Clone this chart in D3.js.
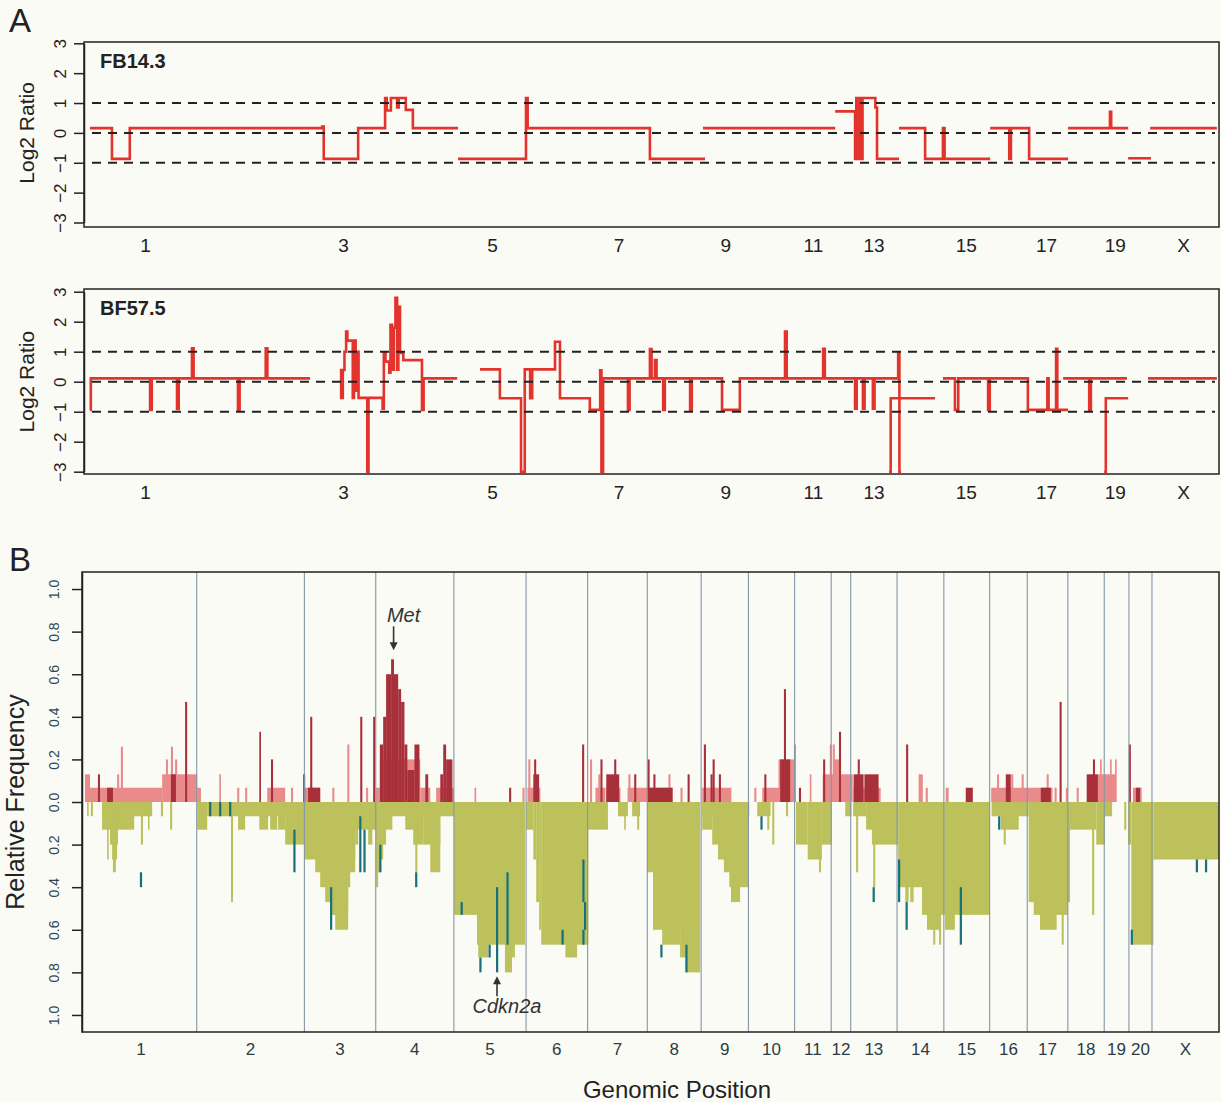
<!DOCTYPE html>
<html><head><meta charset="utf-8">
<script src="https://cdn.jsdelivr.net/npm/d3@7"></script>
<style>body{margin:0;background:#fbfbf6}svg{display:block}text{font-family:"Liberation Sans",Arial,sans-serif}</style>
</head><body><svg id="c" width="1221" height="1102"></svg>
<script>
// ---------- DATA ----------
const chromNames = ["1","2","3","4","5","6","7","8","9","10","11","12","13","14","15","16","17","18","19","20","X"];
const chromLengths = [267.9,258.2,171.1,187.4,173.1,147.6,143.0,129.2,113.4,110.7,87.8,46.7,111.2,112.2,109.8,90.2,97.3,87.3,59.2,55.3,160.7]; // Mb
const aTickLabels = ["1","3","5","7","9","11","13","15","17","19","X"];
const log2Ticks = [3,2,1,0,-1,-2,-3];
const log2RefLines = [1,0,-1];
const freqTicks = [1.0,0.8,0.6,0.4,0.2,0.0,-0.2,-0.4,-0.6,-0.8,-1.0];
const sampleNames = ["FB14.3","BF57.5"];

// segments: [start Mb, end Mb, log2 ratio]; each inner list is one connected run
const fb143Runs = [
 [[0,53,0.16],[53,96,-0.87],[96,560,0.16],[560,564,0.21],[564,647,-0.87],[647,712,0.16],[712,716,1.17],[716,726,0.75],[726,741,1.17],[741,745,0.85],[745,762,1.17],[762,779,0.77],[779,888,0.16]],
 [[888,1052,-0.87],[1052,1056,1.17],[1056,1351,0.16],[1351,1484,-0.87]],
 [[1479,1798,0.16]],
 [[1798,1846,0.72],[1846,1849,-0.87],[1849,1852,1.17],[1852,1856,-0.87],[1856,1860,1.17],[1860,1864,-0.87],[1864,1895,1.17],[1895,1899,0.85],[1899,1952,-0.87]],
 [[1952,2015,0.16],[2015,2058,-0.87],[2058,2062,0.16],[2062,2172,-0.87]],
 [[2172,2218,0.16],[2218,2222,-0.87],[2222,2266,0.16],[2266,2360,-0.87]],
 [[2360,2461,0.16],[2461,2464,0.71],[2464,2505,0.16]],
 [[2505,2560,-0.85]],
 [[2558,2719,0.16]]
];
const bf575Runs = [
 [[0,2,-0.94],[2,145,0.11],[145,149,-0.94],[149,210,0.11],[210,214,-0.91],[214,246,0.11],[246,250,1.11],[250,357,0.11],[357,361,-0.94],[361,424,0.11],[424,428,1.11],[428,531,0.11]],
 [[603,606,0.39],[606,610,-0.54],[610,614,0.39],[614,618,1.0],[618,621,1.67],[621,634,1.37],[634,637,-0.54],[637,641,1.37],[641,644,-0.3],[644,648,1.0],[648,669,-0.54],[669,672,-3.0],[672,706,-0.54],[706,709,-0.9],[709,713,0.96],[713,722,0.67],[722,725,0.3],[725,729,1.9],[729,733,0.4],[733,737,1.8],[737,741,2.8],[741,744,0.4],[744,748,2.5],[748,756,0.96],[756,801,0.72],[801,805,-0.94],[805,886,0.11]],
 [[941,989,0.41],[989,1040,-0.55],[1040,1049,-3.0],[1049,1062,0.41],[1062,1067,-0.55],[1067,1122,0.41],[1122,1134,1.33],[1134,1206,-0.55],[1206,1231,-0.94],[1231,1234,0.38],[1234,1238,-3.0],[1238,1298,0.11],[1298,1302,-0.94],[1302,1351,0.11],[1351,1355,1.09],[1355,1363,0.11],[1363,1367,0.72],[1367,1383,0.11],[1383,1387,-0.94],[1387,1448,0.11],[1448,1452,-0.94],[1452,1525,0.11],[1525,1568,-0.94],[1568,1677,0.11],[1677,1681,1.67],[1681,1769,0.11],[1769,1773,1.1],[1773,1846,0.11],[1846,1850,-0.9],[1850,1865,0.11],[1865,1869,-0.9],[1869,1889,0.11],[1889,1893,-0.9],[1893,1950,0.11],[1950,1953,0.96],[1953,1957,-3.0]],
 [[1928,1932,-3.0],[1932,2039,-0.55]],
 [[2058,2087,0.11],[2087,2095,-0.94],[2095,2167,0.11],[2167,2171,-0.94],[2171,2263,0.11],[2263,2310,-0.94],[2310,2313,0.11],[2313,2331,-0.94],[2331,2334,1.1],[2334,2360,-0.94]],
 [[2348,2411,0.11],[2411,2415,-0.94],[2415,2502,0.11]],
 [[2447,2451,-3.0],[2451,2505,-0.55]],
 [[2553,2719,0.11]]
];

// frequency steps: [start Mb, end Mb, frequency]
const gainFreq = [
 [0,12,0.13],[12,185,0.067],[77,82,0.13],[86,91,0.26],[185,269,0.13],[194,199,0.2],[206,211,0.26],[216,221,0.2],[269,278,0.067],
 [322,326,0.13],[365,370,0.067],[384,389,0.067],[437,480,0.067],[494,499,0.067],
 [526,564,0.067],[593,598,0.067],[629,634,0.27],[674,679,0.067],
 [698,707,0.067],[707,804,0.2],[804,828,0.067],[842,885,0.067],
 [934,938,0.067],[1049,1054,0.067],[1061,1092,0.067],[1063,1068,0.2],
 [1211,1216,0.2],[1224,1248,0.067],[1231,1236,0.13],[1250,1284,0.067],[1301,1349,0.067],[1303,1308,0.13],
 [1349,1409,0.067],[1399,1404,0.13],[1428,1433,0.067],
 [1480,1550,0.067],
 [1605,1610,0.067],[1624,1704,0.067],[1663,1704,0.2],[1700,1705,0.27],
 [1738,1742,0.13],[1769,1795,0.13],[1786,1790,0.27],
 [1795,1841,0.13],[1795,1810,0.2],[1793,1798,0.27],
 [1843,1908,0.067],
 [1999,2009,0.13],[2016,2021,0.067],
 [2064,2071,0.067],
 [2173,2320,0.067],[2187,2192,0.13],[2221,2226,0.13],[2246,2251,0.13],[2306,2311,0.13],
 [2325,2330,0.067],[2352,2357,0.067],
 [2378,2383,0.067],[2429,2472,0.13],[2434,2438,0.2],[2458,2462,0.2],[2470,2474,0.2],
 [2513,2534,0.067]
];
const ampFreq = [
 [31,36,0.13],[53,67,0.067],[206,218,0.13],[240,245,0.47],
 [418,422,0.33],[446,451,0.2],
 [523,528,0.13],[535,564,0.067],[540,545,0.4],[660,665,0.4],[691,696,0.4],
 [707,715,0.27],[715,722,0.4],[722,734,0.6],[734,741,0.67],[741,751,0.6],[751,758,0.53],[758,766,0.47],[766,773,0.27],[773,790,0.15],[790,802,0.27],[816,823,0.13],[852,859,0.13],[859,866,0.27],[866,881,0.2],
 [1017,1022,0.067],
 [1075,1089,0.13],[1077,1082,0.2],[1192,1197,0.27],
 [1236,1241,0.2],[1250,1281,0.13],[1269,1274,0.2],[1317,1322,0.13],
 [1349,1409,0.067],[1349,1354,0.2],[1363,1368,0.13],[1445,1450,0.13],
 [1484,1489,0.27],[1500,1505,0.13],[1505,1510,0.2],[1520,1525,0.13],
 [1629,1634,0.13],[1667,1691,0.2],[1676,1681,0.53],
 [1712,1717,0.067],[1770,1775,0.2],
 [1808,1813,0.33],
 [1843,1867,0.13],[1853,1858,0.2],[1869,1903,0.13],
 [1969,1974,0.27],
 [2112,2129,0.067],
 [2208,2220,0.13],
 [2292,2316,0.067],[2337,2342,0.47],
 [2402,2429,0.13],[2417,2422,0.2],
 [2503,2508,0.27],
 [2520,2530,0.067]
];
const lossFreq = [
 [5,7,0.067],[14,19,0.067],[41,161,0.067],[41,118,0.13],[60,79,0.2],[65,77,0.27],[67,74,0.33],[53,55,0.27],[134,139,0.2],[151,154,0.13],[182,187,0.067],[204,209,0.13],
 [269,293,0.13],[293,526,0.067],[350,355,0.47],[367,384,0.13],[418,439,0.13],[444,461,0.13],[463,480,0.13],[480,526,0.2],
 [526,698,0.13],[526,648,0.27],[552,648,0.33],[564,636,0.4],[576,631,0.47],[588,631,0.53],[600,631,0.6],[648,655,0.2],[679,689,0.2],
 [698,885,0.067],[698,737,0.13],[698,722,0.2],[698,715,0.27],[698,710,0.33],[698,703,0.4],[768,811,0.13],[787,811,0.2],[792,797,0.33],[811,852,0.2],[828,852,0.33],
 [885,940,0.53],[940,1055,0.67],[943,967,0.73],[1007,1024,0.8],[1024,1031,0.73],
 [1058,1075,0.13],[1075,1082,0.27],[1082,1089,0.47],[1089,1094,0.6],[1094,1207,0.67],[1152,1180,0.73],
 [1206,1254,0.13],[1278,1302,0.067],[1293,1297,0.13],[1312,1331,0.067],[1324,1329,0.13],
 [1348,1362,0.33],[1362,1475,0.6],[1384,1427,0.67],[1427,1441,0.73],[1441,1475,0.8],
 [1480,1593,0.067],[1480,1504,0.13],[1504,1590,0.2],[1518,1590,0.27],[1532,1590,0.33],[1545,1590,0.4],[1549,1571,0.47],
 [1612,1644,0.067],[1636,1641,0.13],[1648,1653,0.2],[1681,1686,0.067],
 [1705,1733,0.2],[1733,1767,0.27],[1767,1791,0.2],[1760,1765,0.33],
 [1823,1838,0.067],
 [1842,1873,0.067],[1849,1854,0.33],[1873,1950,0.13],[1887,1950,0.2],[1890,1895,0.4],
 [1950,2007,0.4],[1967,1975,0.47],[1979,1987,0.47],[2007,2062,0.53],[2019,2050,0.6],[2034,2039,0.67],[2048,2053,0.67],
 [2062,2170,0.53],[2062,2086,0.6],
 [2174,2263,0.067],[2196,2239,0.13],[2203,2208,0.2],
 [2263,2362,0.47],[2275,2357,0.53],[2290,2330,0.6],[2342,2347,0.67],
 [2360,2425,0.13],[2425,2446,0.2],[2415,2420,0.53],
 [2446,2463,0.067],[2492,2497,0.13],
 [2501,2509,0.2],[2509,2562,0.67],
 [2562,2719,0.27]
];
// deep (homozygous) losses: [position Mb, from freq, to freq]
const deepLoss = [
 [134,0.33,0.4],
 [300,0,0.067],[324,0,0.067],[348,0,0.067],[502,0.13,0.33],
 [590,0.4,0.6],[660,0.067,0.33],[670,0.13,0.33],
 [708,0.2,0.33],[794,0.33,0.4],
 [903,0.47,0.53],[948,0.73,0.8],[970,0.67,0.73],[988,0.4,0.8],[1013,0.33,0.67],
 [1145,0.6,0.67],[1195,0.27,0.47],[1199,0.47,0.6],[1195,0.6,0.67],
 [1382,0.67,0.73],[1442,0.67,0.8],
 [1622,0.067,0.13],
 [1891,0.4,0.47],
 [1952,0.27,0.47],[1970,0.47,0.6],
 [2100,0.4,0.67],
 [2192,0.067,0.13],
 [2510,0.6,0.67],
 [2666,0.27,0.33],[2688,0.27,0.33]
];
const geneMarks = [{name:"Met", pos:740, freq:0.67, dir:"up"},{name:"Cdkn2a", pos:988, freq:0.8, dir:"down"}];

// ---------- DRAWING ----------
const svg = d3.select("#c");
svg.append("rect").attr("width",1221).attr("height",1102).attr("fill","#fbfbf6");
const ink = "#222";
const FONT = '"Liberation Sans",Arial,sans-serif';
const cumStart = []; let acc = 0;
chromLengths.forEach(l => { cumStart.push(acc); acc += l; });
const genomeLen = acc;
const mid = i => cumStart[i] + chromLengths[i]/2;

// Panel letters
svg.append("text").attr("x",9).attr("y",32).attr("font-size",33).attr("fill",ink).text("A");
svg.append("text").attr("x",9).attr("y",571).attr("font-size",33).attr("fill",ink).text("B");

function panelA(runs, name, box, y3, ym3){
  const x = d3.scaleLinear().domain([0, genomeLen]).range([90, 1217]);
  const y = d3.scaleLinear().domain([-3, 3]).range([ym3, y3]);
  const g = svg.append("g");
  const line = d3.line().x(d => x(d[0])).y(d => y(d[1])).curve(d3.curveStepAfter);
  runs.forEach(run => {
    const pts = run.map(s => [s[0], s[2]]);
    const last = run[run.length-1];
    pts.push([last[1], last[2]]);
    g.append("path").attr("d", line(pts)).attr("fill","none")
      .attr("stroke","#e2342d").attr("stroke-width",2.6).attr("stroke-linejoin","miter");
  });
  log2RefLines.forEach(v => {
    g.append("line").attr("x1",box.x0+8).attr("x2",box.x1-4).attr("y1",y(v)).attr("y2",y(v))
      .attr("stroke",ink).attr("stroke-width",2).attr("stroke-dasharray","9,7");
  });
  g.append("rect").attr("x",box.x0).attr("y",box.y0).attr("width",box.x1-box.x0).attr("height",box.y1-box.y0)
    .attr("fill","none").attr("stroke",ink).attr("stroke-width",1.5);
  const ax = g.append("g").attr("transform",`translate(${box.x0},0)`)
    .call(d3.axisLeft(y).tickValues(log2Ticks).tickSize(10).tickSizeOuter(0).tickFormat(d => d < 0 ? "\u2212"+Math.abs(d) : d));
  ax.attr("font-size",null).attr("font-family",null);
  ax.select(".domain").attr("stroke",ink).attr("stroke-width",1.5);
  ax.selectAll(".tick line").attr("stroke",ink).attr("stroke-width",1.5);
  ax.selectAll(".tick text").attr("transform","rotate(-90)").attr("x",0).attr("y",-18).attr("dy",0)
    .attr("text-anchor","middle").style("font-size","17px").attr("fill",ink).style("font-family",FONT);
  aTickLabels.forEach(lab => {
    const i = chromNames.indexOf(lab);
    g.append("text").attr("x", x(mid(i))).attr("y", box.y1+24.5).attr("text-anchor","middle")
      .attr("font-size",19).attr("fill",ink).text(lab);
  });
  g.append("text").attr("transform",`translate(34,${(y3+ym3)/2}) rotate(-90)`).attr("text-anchor","middle")
    .attr("font-size",21).attr("fill",ink).text("Log2 Ratio");
  g.append("text").attr("x",box.x0+16).attr("y",box.y0+26).attr("font-size",20).attr("font-weight","bold")
    .attr("fill",ink).text(name);
}
panelA(fb143Runs, sampleNames[0], {x0:84,x1:1219,y0:42,y1:227}, 43.3, 222.5);
panelA(bf575Runs, sampleNames[1], {x0:84,x1:1219,y0:289,y1:474}, 291.7, 471.7);

// Panel B
(function(){
  const box = {x0:82, x1:1219, y0:572, y1:1032};
  const x = d3.scaleLinear().domain([0, genomeLen]).range([85, 1219]);
  const y = d3.scaleLinear().domain([-1.08, 1.08]).range([box.y1, box.y0]);
  const g = svg.append("g");
  const minW = 1.6;
  function bars(data, color, sign){
    g.append("g").selectAll("rect").data(data).join("rect")
      .attr("x", d => x(d[0]))
      .attr("width", d => Math.max(minW, x(d[1]) - x(d[0])))
      .attr("y", d => sign > 0 ? y(d[2]) : y(0))
      .attr("height", d => Math.abs(y(0) - y(sign*d[2])))
      .attr("fill", color);
  }
  bars(gainFreq, "#e98b8b", 1);
  bars(ampFreq, "#a8303b", 1);
  bars(lossFreq, "#bcc15c", -1);
  g.append("g").selectAll("rect").data(deepLoss).join("rect")
    .attr("x", d => x(d[0]) - 1).attr("width", 2.2)
    .attr("y", d => y(-d[1])).attr("height", d => y(-d[2]) - y(-d[1]))
    .attr("fill", "#17707a");
  g.append("g").selectAll("line").data(cumStart.slice(1)).join("line")
    .attr("x1", d => x(d)).attr("x2", d => x(d)).attr("y1", box.y0).attr("y2", box.y1)
    .attr("stroke", "#8496a6").attr("stroke-width", 1.1);
  g.append("rect").attr("x",box.x0).attr("y",box.y0).attr("width",box.x1-box.x0).attr("height",box.y1-box.y0)
    .attr("fill","none").attr("stroke",ink).attr("stroke-width",1.5);
  const ax = g.append("g").attr("transform",`translate(${box.x0},0)`)
    .call(d3.axisLeft(y).tickValues(freqTicks).tickSize(10).tickSizeOuter(0).tickFormat(d => Math.abs(d).toFixed(1)));
  ax.attr("font-size",null).attr("font-family",null);
  ax.select(".domain").attr("stroke",ink).attr("stroke-width",1.5);
  ax.selectAll(".tick line").attr("stroke",ink).attr("stroke-width",1.5);
  ax.selectAll(".tick text").attr("transform","rotate(-90)").attr("x",0).attr("y",-23).attr("dy",0)
    .attr("text-anchor","middle").style("font-size","14px").attr("fill","#2b4956").style("font-family",FONT);
  chromNames.forEach((lab,i) => {
    g.append("text").attr("x", x(mid(i))).attr("y", 1055).attr("text-anchor","middle")
      .attr("font-size",17).attr("fill", "#2a3b44").text(lab);
  });
  g.append("text").attr("x",677).attr("y",1098).attr("text-anchor","middle").attr("font-size",24).attr("fill",ink).text("Genomic Position");
  g.append("text").attr("transform",`translate(24,${y(0)}) rotate(-90)`).attr("text-anchor","middle")
    .attr("font-size",25).attr("fill",ink).text("Relative Frequency");
  geneMarks.forEach(m => {
    const gx = x(m.pos);
    if (m.dir === "up") {
      const tip = y(m.freq) - 9;
      g.append("line").attr("x1",gx).attr("x2",gx).attr("y1",tip-24).attr("y2",tip-6).attr("stroke","#333").attr("stroke-width",1.6);
      g.append("path").attr("d",`M${gx-4},${tip-8}L${gx+4},${tip-8}L${gx},${tip}Z`).attr("fill","#333");
      g.append("text").attr("x",gx+10).attr("y",tip-28).attr("text-anchor","middle").attr("font-size",20)
        .attr("font-style","italic").attr("fill","#333").text(m.name);
    } else {
      const tip = y(-m.freq) + 4;
      g.append("line").attr("x1",gx).attr("x2",gx).attr("y1",tip+6).attr("y2",tip+20).attr("stroke","#333").attr("stroke-width",1.6);
      g.append("path").attr("d",`M${gx-4},${tip+8}L${gx+4},${tip+8}L${gx},${tip}Z`).attr("fill","#333");
      g.append("text").attr("x",gx+10).attr("y",tip+37).attr("text-anchor","middle").attr("font-size",20)
        .attr("font-style","italic").attr("fill","#333").text(m.name);
    }
  });
})();
</script></body></html>
